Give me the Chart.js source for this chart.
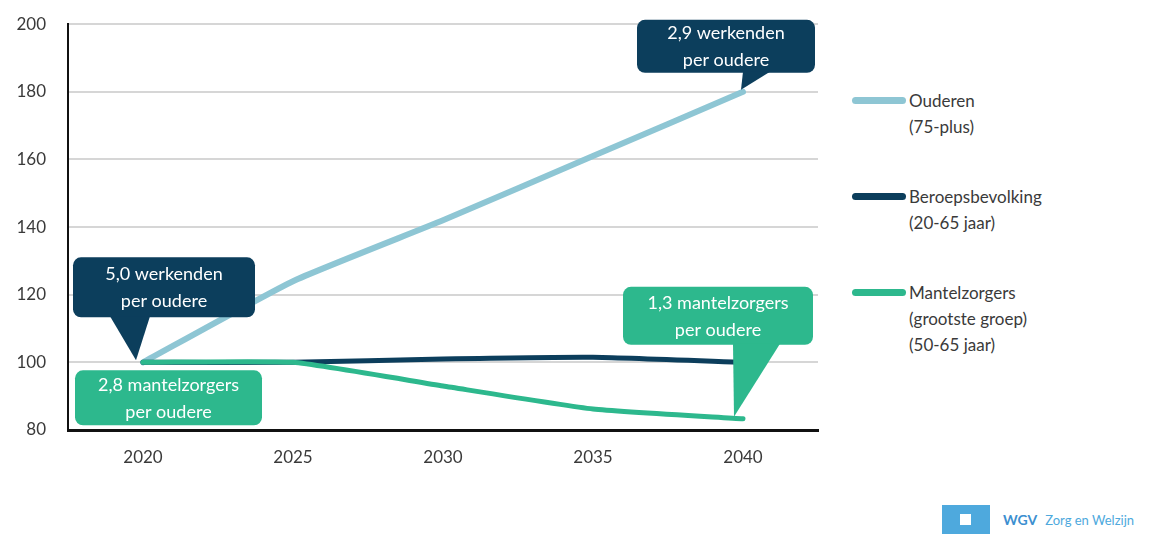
<!DOCTYPE html>
<html lang="nl">
<head>
  <meta charset="UTF-8" />
  <title>Ouderen, beroepsbevolking en mantelzorgers</title>
  <script src="https://cdn.jsdelivr.net/npm/chart.js"></script>
  <style>
    body {
      margin: 0;
      width: 1156px;
      height: 534px;
      background: #ffffff;
      font-family: Lato, 'Open Sans', sans-serif;
      color: #333;
      position: relative;
      overflow: hidden;
    }

    #chartBox {
      position: absolute;
      left: 0;
      top: -8px;
      width: 830px;
      height: 488px;
    }

    .legend {
      position: absolute;
      left: 852px;
      top: 88px;
    }

    .legend .item {
      position: relative;
      padding-left: 57px;
      font-size: 17px;
      line-height: 26px;
      color: #3a3a3a;
      margin-bottom: 44px;
    }

    .legend .swatch {
      position: absolute;
      left: 0;
      top: 9px;
      width: 54px;
      height: 7px;
      border-radius: 4px;
    }

    .logo {
      position: absolute;
      left: 942px;
      top: 505px;
      height: 29px;
      display: flex;
      align-items: center;
    }

    .logo .square {
      width: 48px;
      height: 29px;
      background: #4ea9dd;
      position: relative;
    }

    .logo .square::after {
      content: '';
      position: absolute;
      left: 18px;
      top: 9px;
      width: 11px;
      height: 11px;
      background: #fff;
    }

    .logo .wgv {
      margin-left: 13px;
      font-weight: bold;
      font-size: 14px;
      color: #3c8fd0;
    }

    .logo .zorg {
      margin-left: 8px;
      font-size: 13px;
      color: #4ea9dd;
    }
  </style>
</head>
<body>

  <div id="chartBox"><canvas id="lineChart" width="830" height="488"></canvas></div>

  <div class="legend">
    <div class="item"><span class="swatch" style="background:#8ec6d4"></span>Ouderen<br>(75-plus)</div>
    <div class="item"><span class="swatch" style="background:#0c3e5c"></span>Beroepsbevolking<br>(20-65 jaar)</div>
    <div class="item"><span class="swatch" style="background:#2db88d"></span>Mantelzorgers<br>(grootste groep)<br>(50-65 jaar)</div>
  </div>

  <div class="logo">
    <div class="square"></div>
    <span class="wgv">WGV</span>
    <span class="zorg">Zorg en Welzijn</span>
  </div>

  <script>
    // index, 2020 = 100
    const years = ['2020', '2025', '2030', '2035', '2040'];
    const ouderen = [100, 124, 142, 161, 180];
    const beroepsbevolking = [100, 100, 101, 101.5, 100];
    const mantelzorgers = [100, 100, 93, 86.2, 83.3];
    const yTicks = [80, 100, 120, 140, 160, 180, 200];

    const lightBlue = '#8ec6d4';
    const darkBlue = '#0c3e5c';
    const green = '#2db88d';

    // callouts: anchored on a data point, box offsets relative to that point
    const callouts = [
      { lines: ['2,9 werkenden', 'per oudere'], data: ouderen, index: 4, color: darkBlue,
        box: [-106, -72, 178, 53], tip: [0, 27, -2] },
      { lines: ['5,0 werkenden', 'per oudere'], data: ouderen, index: 0, color: darkBlue,
        box: [-70, -105, 182, 60], tip: [-33, 40, -7] },
      { lines: ['2,8 mantelzorgers', 'per oudere'], data: mantelzorgers, index: 0, color: green,
        box: [-68, 8, 187, 55], tip: null },
      { lines: ['1,3 mantelzorgers', 'per oudere'], data: mantelzorgers, index: 4, color: green,
        box: [-120, -132, 190, 58], tip: [-10, 47, -9] }
    ];

    function roundRect(ctx, x, y, w, h, r) {
      ctx.beginPath();
      ctx.moveTo(x + r, y);
      ctx.arcTo(x + w, y, x + w, y + h, r);
      ctx.arcTo(x + w, y + h, x, y + h, r);
      ctx.arcTo(x, y + h, x, y, r);
      ctx.arcTo(x, y, x + w, y, r);
      ctx.closePath();
    }

    const calloutPlugin = {
      id: 'callouts',
      afterDatasetsDraw(chart) {
        const ctx = chart.ctx;
        const xs = chart.scales.x;
        const ys = chart.scales.y;
        ctx.save();
        callouts.forEach(c => {
          const px = xs.getPixelForValue(c.index);
          const py = ys.getPixelForValue(c.data[c.index]);
          const [bx, by, bw, bh] = c.box;
          ctx.fillStyle = c.color;
          roundRect(ctx, px + bx, py + by, bw, bh, 8);
          ctx.fill();
          if (c.tip) {
            // tip: [base start x, base width, tip x]
            const [tx, tw, tipX] = c.tip;
            const baseY = py + by + bh - 1;
            ctx.beginPath();
            ctx.moveTo(px + tx, baseY);
            ctx.lineTo(px + tx + tw, baseY);
            ctx.lineTo(px + tipX, py - 2);
            ctx.closePath();
            ctx.fill();
          }
          ctx.fillStyle = '#ffffff';
          ctx.font = '18px Lato, "Open Sans", sans-serif';
          ctx.textAlign = 'center';
          ctx.textBaseline = 'middle';
          const cx = px + bx + bw / 2;
          const cy = py + by + bh / 2;
          ctx.fillText(c.lines[0], cx, cy - 13);
          ctx.fillText(c.lines[1], cx, cy + 14);
        });
        ctx.restore();
      }
    };

    new Chart(document.getElementById('lineChart'), {
      type: 'line',
      data: {
        labels: years,
        datasets: [
          { label: 'Ouderen (75-plus)', data: ouderen, borderColor: lightBlue, borderWidth: 6, order: 2 },
          { label: 'Beroepsbevolking (20-65 jaar)', data: beroepsbevolking, borderColor: darkBlue, borderWidth: 5, order: 1 },
          { label: 'Mantelzorgers (50-65 jaar)', data: mantelzorgers, borderColor: green, borderWidth: 5, order: 0 }
        ]
      },
      options: {
        responsive: false,
        animation: false,
        layout: { padding: { top: 16, right: 12 } },
        elements: {
          point: { radius: 0 },
          line: { tension: 0.15, borderCapStyle: 'round', borderJoinStyle: 'round' }
        },
        plugins: {
          legend: { display: false },
          tooltip: { enabled: false }
        },
        scales: {
          x: {
            offset: true,
            grid: { display: false, drawTicks: false },
            border: { color: '#111', width: 3 },
            ticks: {
              padding: 17,
              color: '#3a3a3a',
              font: { family: 'Lato', size: 17 }
            },
            afterFit(scale) { scale.height = 50; }
          },
          y: {
            min: 80,
            max: 200,
            afterBuildTicks(scale) { scale.ticks = yTicks.map(v => ({ value: v })); },
            grid: { color: '#d6d6d6', lineWidth: 2, drawTicks: false },
            border: { color: '#111', width: 2 },
            ticks: {
              padding: 22,
              color: '#3a3a3a',
              font: { family: 'Lato', size: 17 }
            },
            afterFit(scale) { scale.width = 68; }
          }
        }
      },
      plugins: [calloutPlugin]
    });
  </script>

</body>
</html>
